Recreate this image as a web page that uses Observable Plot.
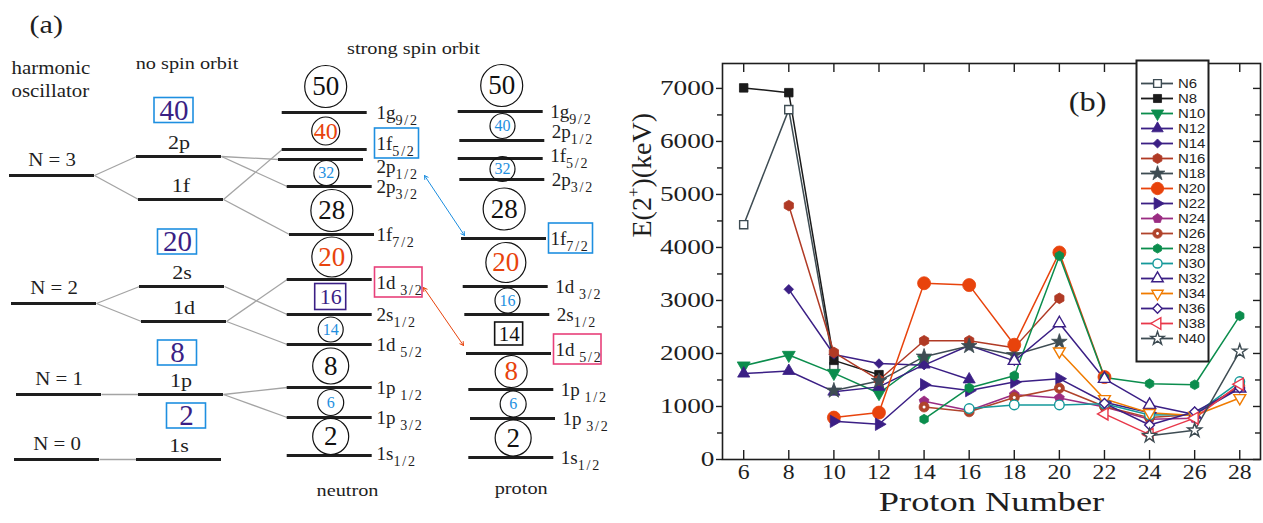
<!DOCTYPE html>
<html><head><meta charset="utf-8">
<script src="https://cdn.jsdelivr.net/npm/d3@7"></script>
<script src="https://cdn.jsdelivr.net/npm/@observablehq/plot@0.6"></script>
<style>
html,body{margin:0;padding:0;background:#fff;}
#wrap{position:relative;width:1263px;height:523px;overflow:hidden;background:#fff;}
#pa{position:absolute;left:0;top:0;}
#pb{position:absolute;left:620px;top:0;}
#lg{position:absolute;left:1136px;top:60px;}
svg{max-width:none !important;}
</style></head><body>
<div id="wrap"><div id="pa"></div><div id="pb"></div><div id="lg"></div></div>
<script>
// ================= Panel (b) data =================
const protonTicks = [6, 8, 10, 12, 14, 16, 18, 20, 22, 24, 26, 28];
const energyTicks = [0, 1000, 2000, 3000, 4000, 5000, 6000, 7000];
const energyMinorTicks = [500, 1500, 2500, 3500, 4500, 5500, 6500];
const seriesNames = ["N6","N8","N10","N12","N14","N16","N18","N20","N22","N24","N26","N28","N30","N32","N34","N36","N38","N40"];
const N6  = [[6,4430],[8,6600],[10,1750]];
const N8  = [[6,7010],[8,6920],[10,1870],[12,1600]];
const N10 = [[6,1770],[8,1970],[10,1630],[12,1250],[14,1880]];
const N12 = [[6,1620],[8,1670],[10,1280],[12,1370],[14,1790],[16,1510]];
const N14 = [[8,3210],[10,1980],[12,1810],[14,1780],[16,2150],[18,1860]];
const N16 = [[8,4790],[10,2020],[12,1500],[14,2240],[16,2240],[18,2110],[20,3040]];
const N18 = [[10,1300],[12,1480],[14,1940],[16,2140],[18,1970],[20,2220]];
const N20 = [[10,790],[12,885],[14,3325],[16,3290],[18,2165],[20,3905],[22,1555]];
const N22 = [[10,720],[12,665],[14,1410],[16,1300],[18,1460],[20,1525],[22,1080],[24,880]];
const N24 = [[14,1100],[16,925],[18,1225],[20,1160],[22,990],[24,760],[26,780]];
const N26 = [[14,990],[16,900],[18,1170],[20,1345],[22,1000],[24,790],[26,850],[28,1390]];
const N28 = [[14,760],[16,1350],[18,1580],[20,3840],[22,1545],[24,1430],[26,1410],[28,2710]];
const N30 = [[16,960],[18,1030],[20,1030],[22,1050],[24,840],[26,850],[28,1470]];
const N32 = [[18,1860],[20,2570],[22,1520],[24,1030],[26,850],[28,1340]];
const N34 = [[20,2040],[22,1140],[24,880],[26,830],[28,1160]];
const N36 = [[22,1060],[24,650],[26,900],[28,1350]];
const N38 = [[22,860],[24,470],[26,780],[28,1420]];
const N40 = [[24,450],[26,550],[28,2040]];
const seriesData = [N6,N8,N10,N12,N14,N16,N18,N20,N22,N24,N26,N28,N30,N32,N34,N36,N38,N40];

// ================= Panel (a) data =================
const hoNames = ["N = 0", "N = 1", "N = 2", "N = 3"];
const hoEnergy = [0, 65, 156, 284];
const hoShells = [["1s"], ["1p"], ["1d", "2s"], ["1f", "2p"]];
const hoMagic = [2, 8, 20, 40];
const nlNames = ["1s", "1p", "1d", "2s", "1f", "2p"];
const nlEnergy = [0, 65, 138, 173, 260, 303];
const neutronNames = ["1s","1p","1p","1d","2s","1d","1f","2p","2p","1f","1g"];
const neutronJ     = ["1/2","3/2","1/2","5/2","1/2","3/2","7/2","3/2","1/2","5/2","9/2"];
const neutronEnergy = [4, 42, 72, 115, 145, 180, 225, 273, 300, 310, 347];
const protonNames = ["1s","1p","1p","1d","2s","1d","1f","2p","1f","2p","1g"];
const protonJ     = ["1/2","3/2","1/2","5/2","1/2","3/2","7/2","3/2","5/2","1/2","9/2"];
const protonEnergy = [2, 41, 70, 106, 145, 173, 221, 280, 301, 319, 348];
const shownMagic = [2, 6, 8, 14, 16, 20, 28, 32, 40, 50];
const neutronMagicKind = ["major","sub","major","sub","boxIndigo","new","major","sub","newSmall","major"];
const protonMagicKind  = ["major","sub","new","boxBlack","sub","new","major","sub","sub","major"];

// ================= layout (positions / styles) =================
const SERIF = "'Liberation Serif','Times New Roman',serif";
const SANS = "'Liberation Sans',Arial,sans-serif";
const ORANGE = "#e8430c", BLUE = "#1e8fe0", INDIGO = "#3b1f85", PINK = "#e8407a", INK = "#1e1e1e";
const hoX1 = [14, 16, 11, 9];
const nlX1 = [136, 138, 141, 139, 138, 136];
const neutronX1 = [286.7,286.7,286.7,286.7,286.7,286.7,289,286.7,278,281.7,281.7];
const protonX1 = [468.3,470,468.3,466,464.3,462.7,461,459.3,457.7,459.3,457.7];
const LW = 85;

function levels(names, js, E, X1) {
  return names.map((n, i) => ({name: n, j: js ? js[i] : null, key: js ? n + "_" + js[i] : n,
    E: E[i], x1: X1[i], x2: X1[i] + LW}));
}
const ho = levels(hoNames, null, hoEnergy, hoX1);
const nl = levels(nlNames, null, nlEnergy, nlX1);
const neu = levels(neutronNames, neutronJ, neutronEnergy, neutronX1);
const pro = levels(protonNames, protonJ, protonEnergy, protonX1);

const links = [];
ho.forEach((h, i) => hoShells[i].forEach(s => {
  const t = nl.find(d => d.name === s);
  links.push({x1: h.x2, y1: h.E, x2: t.x1, y2: t.E});
}));
nl.filter(d => d.name !== "1s").forEach(n => neu.filter(d => d.name === n.name).forEach(t =>
  links.push({x1: n.x2, y1: n.E, x2: t.x1, y2: t.E})));

function magic(levs, kinds) {
  const sorted = levs.slice().sort((a, b) => a.E - b.E);
  const out = []; let occ = 0;
  sorted.forEach((l, i) => {
    occ += +l.j.split("/")[0] + 1;
    const k = shownMagic.indexOf(occ);
    if (k < 0) return;
    const nx = sorted[i + 1];
    const cx = nx ? ((l.x1 + l.x2) / 2 + (nx.x1 + nx.x2) / 2) / 2 : (l.x1 + l.x2) / 2;
    const E = nx ? (l.E + nx.E) / 2 : l.E + 26;
    out.push({text: String(occ), x: cx + 1, E, kind: kinds[k]});
  });
  return out;
}
const kindStyle = {
  major: {box: false, stroke: "#111", color: "#111", r2: 21, r1: 18, fs: 27},
  new: {box: false, stroke: "#111", color: ORANGE, r2: 20, r1: 16, fs: 27},
  newSmall: {box: false, stroke: "#111", color: ORANGE, r2: 14, r1: 14, fs: 24},
  sub: {box: false, stroke: "#111", color: BLUE, r2: 12.5, r1: 13, fs: 16},
  boxIndigo: {box: true, stroke: INDIGO, color: INDIGO, w: 31, h: 26, fs: 22},
  boxBlack: {box: true, stroke: "#111", color: "#111", w: 28, h: 23, fs: 21}
};
const magics = [...magic(neu, neutronMagicKind), ...magic(pro, protonMagicKind)];
const circles = magics.filter(d => !kindStyle[d.kind].box);
const magicBoxes = magics.filter(d => kindStyle[d.kind].box);
const rOf = d => d.text.length > 1 ? kindStyle[d.kind].r2 : kindStyle[d.kind].r1;

const hoBoxNudge = [11, 5, 1, 0], hoBoxDx = [6.5, -2.5, -2.5, -6];
const sortedNl = nl.slice().sort((a, b) => a.E - b.E);
const hoBoxes = hoMagic.map((m, i) => {
  const lo = [0, 1, 3, 5][i];
  const a = sortedNl[lo], b = sortedNl[lo + 1];
  const E = b ? (a.E + b.E) / 2 + hoBoxNudge[i] : a.E + 46;
  return {text: String(m), x: 179.5 + hoBoxDx[i], E};
});

const nudgeN = {"1f_5/2": 6, "2p_1/2": -7, "1d_3/2": -3, "1s_1/2": 2};
const nudgeP = {"2p_1/2": 9, "1f_5/2": 3, "1d_5/2": 4};
const boxN = {"1f_5/2": BLUE, "1d_3/2": PINK};
const boxP = {"1f_7/2": BLUE, "1d_5/2": PINK};
const labelText = l => l.name + (l.name === "1p" || l.name === "1d" ? " " : "") + "_{" + l.j + "}";
const labels = [
  ...neu.map(l => ({text: labelText(l), x: 376, E: l.E + (nudgeN[l.key] || 0), box: boxN[l.key], wide: /d/.test(l.name)})),
  ...pro.map(l => ({text: labelText(l), x: l.x2 + (boxP[l.key] ? 4 : 7), E: l.E + (nudgeP[l.key] || 0), box: boxP[l.key], wide: /d/.test(l.name)}))
];
const labelBoxes = labels.filter(d => d.box).map(d => ({x1: d.x - 1.5, x2: d.x + (d.wide ? 46 : 42.5), y1: d.E - 15, y2: d.E + 15, c: d.box}));

const nF = neu.find(d => d.key === "1f_5/2"), pF = pro.find(d => d.key === "1f_7/2");
const nD = neu.find(d => d.key === "1d_3/2"), pD = pro.find(d => d.key === "1d_5/2");
const arrowsRaw = [
  {x1: 424, y1: nF.E - 26, x2: pF.x1 + 3, y2: pF.E + 3, c: BLUE},
  {x1: 423, y1: nD.E - 8, x2: pD.x1 - 3, y2: pD.E + 8, c: ORANGE}
];
const arrows = arrowsRaw.flatMap(a => {
  const mx = (a.x1 + a.x2) / 2, my = (a.y1 + a.y2) / 2;
  return [{x1: mx, y1: my, x2: a.x1, y2: a.y1, c: a.c}, {x1: mx, y1: my, x2: a.x2, y2: a.y2, c: a.c}];
});

const titlesStart = [
  {text: "(a)", x: 29, E: 435, fs: 26},
  {text: "harmonic", x: 11, E: 391, fs: 18},
  {text: "oscillator", x: 11, E: 368, fs: 18}
];
const titlesMid = [
  {text: "no spin orbit", x: 186.5, E: 396, fs: 17.5},
  {text: "strong spin orbit", x: 413, E: 410.7, fs: 17.5},
  {text: "neutron", x: 347, E: -31, fs: 17.5},
  {text: "proton", x: 520.7, E: -29.3, fs: 17.5}
];

const chartA = Plot.plot({
  width: 620, height: 523, margin: 0,
  x: {domain: [0, 620], range: [0, 620], axis: null},
  y: {domain: [-64, 459], range: [523, 0], axis: null},
  r: {type: "identity"}, color: {type: "identity"},
  style: {fontFamily: SERIF, background: "transparent", overflow: "visible"},
  marks: [
    Plot.link(links, {x1: "x1", y1: "y1", x2: "x2", y2: "y2", stroke: "#a4a4a4", strokeWidth: 1.3}),
    Plot.ruleY([...ho, ...nl, ...neu, ...pro], {y: "E", x1: "x1", x2: "x2", stroke: INK, strokeWidth: 3}),
    Plot.text(ho, {x: d => (d.x1 + d.x2) / 2, y: d => d.E + 15, text: "name", fontSize: 18, fill: INK}),
    Plot.text(nl, {x: d => (d.x1 + d.x2) / 2, y: d => d.E + 14, text: "name", fontSize: 19, fill: INK}),
    Plot.rect(hoBoxes, {x1: d => d.x - 19.5, x2: d => d.x + 19.5, y1: d => d.E - 12.5, y2: d => d.E + 12.5, stroke: BLUE, fill: "none", strokeWidth: 1.6}),
    Plot.text(hoBoxes, {x: "x", y: d => d.E, text: "text", fontSize: 29, fill: INDIGO}),
    Plot.dot(circles, {x: "x", y: "E", r: rOf, stroke: d => kindStyle[d.kind].stroke, fill: "none", strokeWidth: 1.2}),
    Plot.rect(magicBoxes, {x1: d => d.x - kindStyle[d.kind].w / 2, x2: d => d.x + kindStyle[d.kind].w / 2,
      y1: d => d.E - kindStyle[d.kind].h / 2, y2: d => d.E + kindStyle[d.kind].h / 2,
      stroke: d => kindStyle[d.kind].stroke, fill: "none", strokeWidth: 1.6}),
    Plot.text(magics, {x: "x", y: "E", text: "text", fill: d => kindStyle[d.kind].color, fontSize: d => kindStyle[d.kind].fs}),
    Plot.rect(labelBoxes, {x1: "x1", x2: "x2", y1: "y1", y2: "y2", stroke: "c", fill: "none", strokeWidth: 1.6}),
    Plot.text(labels, {x: "x", y: "E", text: "text", textAnchor: "start", fontSize: 19, fill: INK}),
    Plot.arrow(arrows, {x1: "x1", y1: "y1", x2: "x2", y2: "y2", stroke: "c", strokeWidth: 1, headLength: 6}),
    Plot.text(titlesStart, {x: "x", y: "E", text: "text", textAnchor: "start", fontSize: "fs", fill: INK}),
    Plot.text(titlesMid, {x: "x", y: "E", text: "text", fontSize: "fs", fill: INK})
  ]
});

// ================= Panel (b) =================
const triSide = s => Math.sqrt(s * 4 / Math.sqrt(3));
const triDown = {draw(c, s) { const a = triSide(s), h = a * Math.sqrt(3) / 2; c.moveTo(0, 2*h/3); c.lineTo(a/2, -h/3); c.lineTo(-a/2, -h/3); c.closePath(); }};
const triRight = {draw(c, s) { const a = triSide(s), h = a * Math.sqrt(3) / 2; c.moveTo(2*h/3, 0); c.lineTo(-h/3, a/2); c.lineTo(-h/3, -a/2); c.closePath(); }};
const triLeft = {draw(c, s) { const a = triSide(s), h = a * Math.sqrt(3) / 2; c.moveTo(-2*h/3, 0); c.lineTo(h/3, a/2); c.lineTo(h/3, -a/2); c.closePath(); }};
const pentagon = {draw(c, s) { const R = Math.sqrt(s / (2.5 * Math.sin(2 * Math.PI / 5)));
  for (let k = 0; k < 5; k++) { const t = -Math.PI / 2 + k * 2 * Math.PI / 5; k ? c.lineTo(R*Math.cos(t), R*Math.sin(t)) : c.moveTo(R*Math.cos(t), R*Math.sin(t)); } c.closePath(); }};
const SLATE = "#3e4c53", GREEN = "#0b8d4d", BROWN = "#b03a25";
const seriesStyle = {
  N6: {color: SLATE, symbol: "square", open: true, r: 4.6},
  N8: {color: "#1b1b1b", symbol: "square", r: 4.8},
  N10: {color: GREEN, symbol: triDown, r: 4.8},
  N12: {color: INDIGO, symbol: "triangle", r: 4.5},
  N14: {color: INDIGO, symbol: "diamond2", r: 4.3},
  N16: {color: BROWN, symbol: "hexagon", r: 4.6},
  N18: {color: SLATE, symbol: "star", r: 4.9},
  N20: {color: ORANGE, symbol: "circle", r: 6.5},
  N22: {color: INDIGO, symbol: triRight, r: 4.6},
  N24: {color: "#9a2c82", symbol: pentagon, r: 4.5},
  N26: {color: "#b0432b", symbol: "circle", r: 5, dot: true},
  N28: {color: GREEN, symbol: "hexagon", r: 4.2},
  N30: {color: "#15999a", symbol: "circle", open: true, r: 4.8},
  N32: {color: INDIGO, symbol: "triangle", open: true, r: 4.5},
  N34: {color: "#f07b00", symbol: triDown, open: true, r: 4.4},
  N36: {color: INDIGO, symbol: "diamond2", open: true, r: 4.4},
  N38: {color: "#e8384a", symbol: triLeft, open: true, r: 4.5},
  N40: {color: SLATE, symbol: "star", open: true, r: 4.4}
};
const X = d => d[0], Y = d => d[1];
const lineMarks = seriesNames.map((n, i) => Plot.line(seriesData[i], {x: X, y: Y, stroke: seriesStyle[n].color, strokeWidth: 1.5}));
const dotMarks = seriesNames.flatMap((n, i) => {
  const st = seriesStyle[n];
  const m = [Plot.dot(seriesData[i], {x: X, y: Y, symbol: st.symbol, r: st.r, stroke: st.color,
    fill: st.open ? "white" : st.color, strokeWidth: st.open ? 1.4 : 0.8})];
  if (st.dot) m.push(Plot.dot(seriesData[i], {x: X, y: Y, r: 1.5, fill: "white", stroke: "none"}));
  return m;
});
const bML = 102, bMR = 3, bMT = 63, bMB = 64, bW = 643, bH = 523;
const frameW = bW - bML - bMR, frameH = bH - bMT - bMB;
const chartB = Plot.plot({
  width: bW, height: bH, marginLeft: bML, marginRight: bMR, marginTop: bMT, marginBottom: bMB,
  x: {domain: [5.06, 28.92], axis: null}, y: {domain: [0, 7470], axis: null},
  style: {fontFamily: SERIF, background: "transparent", overflow: "visible"},
  marks: [
    ...lineMarks, ...dotMarks,
    Plot.frame({stroke: INK, strokeWidth: 1.6}),
    Plot.tickX(protonTicks, {x: d => d, insetTop: frameH - 9, stroke: INK, strokeWidth: 1.4}),
    Plot.tickX(protonTicks, {x: d => d, insetBottom: frameH - 9, stroke: INK, strokeWidth: 1.4}),
    Plot.tickY(energyTicks, {y: d => d, insetLeft: -6, insetRight: frameW, stroke: INK, strokeWidth: 1.4}),
    Plot.tickY(energyMinorTicks, {y: d => d, insetLeft: -5, insetRight: frameW, stroke: INK, strokeWidth: 1.4}),
    Plot.tickY(energyTicks, {y: d => d, insetLeft: frameW - 7, stroke: INK, strokeWidth: 1.4}),
    Plot.tickY(energyMinorTicks, {y: d => d, insetLeft: frameW - 5, stroke: INK, strokeWidth: 1.4}),
    Plot.text(protonTicks, {x: d => d, text: d => String(d), frameAnchor: "bottom", dy: 19, fontSize: 22, fill: INK}),
    Plot.text(energyTicks, {y: d => d, text: d => String(d), frameAnchor: "left", textAnchor: "end", dx: -8, fontSize: 21, fill: INK}),
    Plot.text(["Proton Number"], {frameAnchor: "bottom", dy: 51, text: d => d, fontSize: 28, fill: INK}),
    Plot.text(["E(2^{+})(keV)"], {frameAnchor: "left", dx: -80, dy: -24, rotate: -90, text: d => d, fontSize: 28, fill: INK}),
    Plot.text(["(b)"], {x: 21.25, y: 6740, text: d => d, fontSize: 27, fill: INK})
  ]
});

// ================= Legend =================
const legend = Plot.plot({
  width: 72, height: 301, margin: 0,
  x: {domain: [0, 72], range: [0, 72], axis: null},
  y: {type: "point", domain: seriesNames, range: [14.7, 286], axis: null},
  style: {fontFamily: SANS, background: "white", overflow: "visible"},
  marks: [
    Plot.frame({stroke: INK, strokeWidth: 2}),
    ...seriesNames.map(n => Plot.ruleY([n], {y: d => d, x1: 5, x2: 37, stroke: seriesStyle[n].color, strokeWidth: 1.8})),
    ...seriesNames.flatMap(n => {
      const st = seriesStyle[n];
      const m = [Plot.dot([n], {y: d => d, x: 21, symbol: st.symbol, r: st.r * 0.95, stroke: st.color,
        fill: st.open ? "white" : st.color, strokeWidth: st.open ? 1.4 : 0.8})];
      if (st.dot) m.push(Plot.dot([n], {y: d => d, x: 21, r: 1.4, fill: "white"}));
      return m;
    }),
    Plot.text(seriesNames, {y: d => d, x: 41.5, text: d => d, textAnchor: "start", fontSize: 13, fill: "#222"})
  ]
});

document.getElementById("pa").appendChild(chartA);
document.getElementById("pb").appendChild(chartB);
document.getElementById("lg").appendChild(legend);

// ---------- text post-processing: horizontal stretch and sub/superscripts ----------
const NS = "http://www.w3.org/2000/svg";
function stretch(root, strings, k) {
  const set = new Set(strings.map(String));
  root.querySelectorAll("text").forEach(t => {
    if (!set.has(t.textContent)) return;
    const tr = t.getAttribute("transform");
    if (tr) t.setAttribute("transform", tr + ` scale(${k},1)`);
    else { const x = +t.getAttribute("x") || 0, y = +t.getAttribute("y") || 0;
      t.setAttribute("transform", `translate(${x},${y}) scale(${k},1) translate(${-x},${-y})`); }
  });
}
function richText(root) {
  root.querySelectorAll("text").forEach(t => {
    const s = t.textContent;
    if (!/[_^]\{/.test(s)) return;
    const fs = parseFloat(getComputedStyle(t).fontSize) || 16;
    while (t.firstChild) t.removeChild(t.firstChild);
    let cur = 0, last = 0, m;
    const re = /([_^])\{([^}]*)\}/g;
    const add = (txt, size, off, ls) => {
      const ts = document.createElementNS(NS, "tspan");
      ts.textContent = txt;
      if (size) ts.setAttribute("font-size", size);
      if (ls) ts.setAttribute("letter-spacing", ls);
      if (off !== cur) { ts.setAttribute("dy", off - cur); cur = off; }
      t.appendChild(ts);
    };
    while ((m = re.exec(s))) {
      if (m.index > last) add(s.slice(last, m.index), null, 0, 0);
      if (m[1] === "_") add(m[2], fs * 0.74, fs * 0.36, 1.8);
      else add(m[2], fs * 0.6, -fs * 0.45, 0);
      last = re.lastIndex;
    }
    if (last < s.length) add(s.slice(last), null, 0, 0);
  });
}
stretch(chartA, [...titlesStart, ...titlesMid].map(d => d.text).concat(hoNames, nlNames), 1.16);
stretch(chartB, energyTicks, 1.3);
stretch(chartB, protonTicks, 1.08);
stretch(chartB, ["Proton Number"], 1.3);
stretch(chartB, ["(b)"], 1.2);
stretch(legend, seriesNames, 1.15);
richText(chartA); richText(chartB);
</script>
</body></html>
